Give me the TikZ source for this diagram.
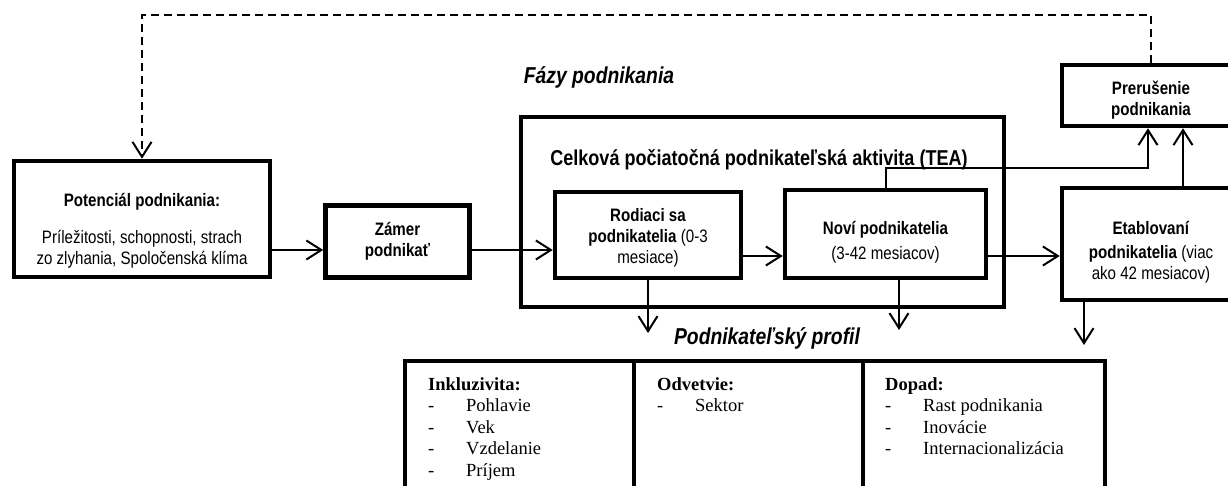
\documentclass[tikz,border=0pt]{standalone}
\usepackage{fontspec}
\setmainfont{Liberation Sans}[FakeStretch=0.84]
\newfontfamily\serifcell{Liberation Serif}
\usetikzlibrary{arrows.meta}

\begin{document}
\begin{tikzpicture}[x=1pt,y=-1pt,>={Straight Barb[length=15pt,width=19pt]},
        phase/.style={draw,line width=4.5pt,inner sep=0pt,align=center,font=\fontsize{18}{21}\selectfont},
        flow/.style={line width=2pt},
        cell/.style={draw,line width=4pt,outer sep=0pt,minimum height=150pt,anchor=north west},
        celltext/.style={anchor=north west,inner sep=0pt,align=left,font=\serifcell\fontsize{18.5}{21.6}\selectfont},
        heading/.style={font=\fontsize{23}{27}\selectfont\bfseries\itshape}]
        \def\dash{\makebox[38pt][l]{-}}
        \def\lift#1{\rule{0pt}{#1pt}}

        \useasboundingbox (0,0) rectangle (1228,486);

        \node[heading] (phases) at (599,77) {Fázy podnikania};
        \node[heading] (profile) at (767,338) {Podnikateľský profil};

        \node[phase,minimum width=256pt,minimum height=116pt] (pot) at (142,219)
            {\lift{36}\textbf{Potenciál podnikania:}\\[16pt]Príležitosti, schopnosti, strach\\zo zlyhania, Spoločenská klíma};
        \node[phase,minimum width=144pt,minimum height=72pt] (zamer) at (397.5,241.5)
            {\textbf{Zámer}\\\textbf{podnikať}};
        \node[draw,line width=4pt,minimum width=483pt,minimum height=190pt] (tea) at (762.5,212) {};
        \node[font=\fontsize{21.5}{25}\selectfont\bfseries] (teahead) at (759,160)
            {Celková počiatočná podnikateľská aktivita (TEA)};
        \node[phase,minimum width=186pt,minimum height=86pt] (rod) at (648,235)
            {\lift{19}\textbf{Rodiaci sa}\\\textbf{podnikatelia} (0-3\\mesiace)};
        \node[phase,minimum width=201pt,minimum height=88pt] (novi) at (885.5,234)
            {\lift{29}\textbf{Noví podnikatelia}\\[4pt](3-42 mesiacov)};
        \node[phase,minimum width=178pt,minimum height=61pt] (prer) at (1151,95.5)
            {\lift{22}\textbf{Prerušenie}\\\textbf{podnikania}};
        \node[phase,minimum width=178pt,minimum height=112pt] (etab) at (1151,244)
            {\lift{29}\textbf{Etablovaní}\\[3pt]\textbf{podnikatelia} (viac\\ako 42 mesiacov)};

        % profil
        \node[cell,minimum width=229pt] (incl) at (405,361) {};
        \node[cell,minimum width=229pt] (odv) at (634,361) {};
        \node[cell,minimum width=242pt] (dop) at (863,361) {};
        \node[celltext] (incltxt) at ([shift={(23,16)}]incl.north west)
            {\textbf{Inkluzivita:}\\\dash Pohlavie\\\dash Vek\\\dash Vzdelanie\\\dash Príjem};
        \node[celltext] (odvtxt) at ([shift={(23,16)}]odv.north west)
            {\textbf{Odvetvie:}\\\dash Sektor};
        \node[celltext] (doptxt) at ([shift={(22,16)}]dop.north west)
            {\textbf{Dopad:}\\\dash Rast podnikania\\\dash Inovácie\\\dash Internacionalizácia};

        \coordinate (row) at (0,250);
        \coordinate (row2) at (0,256);
        \coordinate (jog) at (1148,168);
        \coordinate (rise) at (1183,0);
        \coordinate (back) at (0,15);
        \coordinate (drop1) at (648,333);
        \coordinate (drop2) at (899,330);
        \coordinate (drop3) at (1084,345);

        \draw[flow,->] (pot.east |- row) -- (zamer.west |- row);
        \draw[flow,->] (zamer.east |- row) -- (rod.west |- row);
        \draw[flow,->] (rod.east |- row2) -- (novi.west |- row2);
        \draw[flow,->] (novi.east |- row2) -- (etab.west |- row2);
        \draw[flow,->] (novi.north) |- (jog) -- (jog |- prer.south);
        \draw[flow,->] (etab.north -| rise) -- (prer.south -| rise);
        \draw[flow,->] (rod.south) -- (drop1);
        \draw[flow,->] (novi.south -| drop2) -- (drop2);
        \draw[flow,->] (etab.south -| drop3) -- (drop3);
        \draw[flow,dash pattern=on 8pt off 5pt,->] (prer.north) -- (prer.north |- back) -- (pot.north |- back) -- (pot.north);
\end{tikzpicture}
\end{document}
